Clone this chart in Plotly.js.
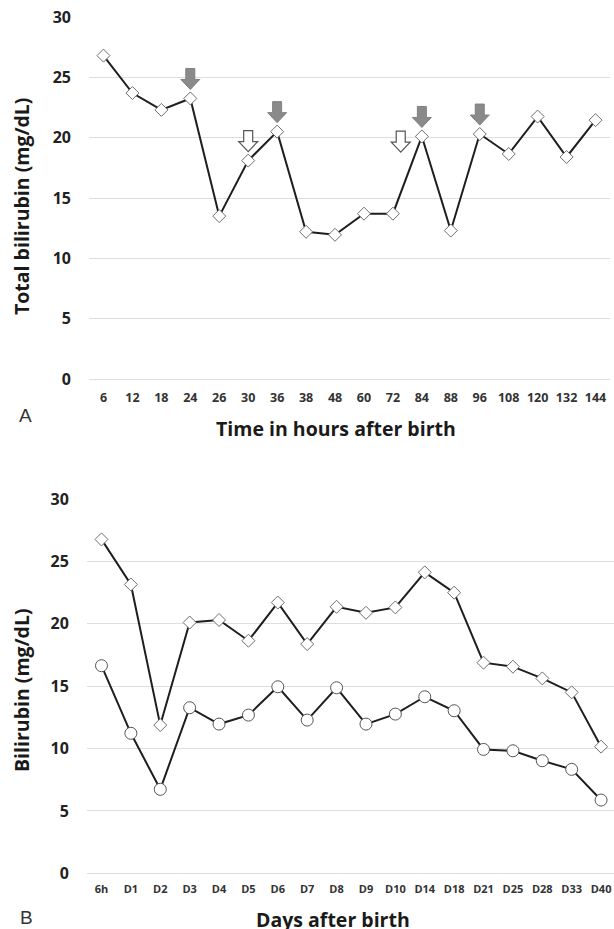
<!DOCTYPE html>
<html>
<head>
<meta charset="utf-8">
<script src="https://cdn.plot.ly/plotly-3.0.1.min.js"></script>
<style>html,body{margin:0;padding:0;background:#fff}#chart{width:614px;height:929px}</style>
</head>
<body>
<div id="chart"></div>
<script>
// Panel A data
const hoursLabels = ['6','12','18','24','26','30','36','38','48','60','72','84','88','96','108','120','132','144'];
const totalBilirubinA = [26.8,23.7,22.3,23.25,13.5,18.1,20.5,12.2,11.95,13.7,13.7,20.1,12.3,20.3,18.65,21.75,18.4,21.45];
// Arrow markers (gray = filled, white = outlined): category position, value of anchor
const grayArrowAt = ['24','36','84','96'];
const grayArrowY = [23.25,20.5,20.1,20.3];
const whiteArrowPos = [5, 10.27];   // at '30' and between '72' and '84'
const whiteArrowY = [18.1, 18.06];

// Panel B data
const dayLabels = ['6h','D1','D2','D3','D4','D5','D6','D7','D8','D9','D10','D14','D18','D21','D25','D28','D33','D40'];
const seriesDiamond = [26.76,23.15,11.88,20.1,20.3,18.64,21.7,18.37,21.36,20.88,21.31,24.12,22.49,16.88,16.56,15.62,14.5,10.15];
const seriesCircle = [16.64,11.22,6.73,13.27,11.96,12.68,14.95,12.28,14.87,11.96,12.76,14.15,13.03,9.93,9.82,9.02,8.33,5.87];

const H = 929, W = 614;
const py = p => 1 - p / H;
const px = p => p / W;

const lineStyle = {color: '#1e1e1e', width: 2};
const diamondMarker = {symbol: 'diamond', size: 10, color: '#ffffff', line: {color: '#6e6e6e', width: 1}};
const circleMarker = {symbol: 'circle', size: 12, color: '#ffffff', line: {color: '#555555', width: 1}};

const traces = [
  {x: hoursLabels, y: totalBilirubinA, type: 'scatter', mode: 'lines+markers', xaxis: 'x', yaxis: 'y',
   line: lineStyle, marker: diamondMarker, cliponaxis: false, hoverinfo: 'skip'},
  {x: dayLabels, y: seriesDiamond, type: 'scatter', mode: 'lines+markers', xaxis: 'x2', yaxis: 'y2',
   line: lineStyle, marker: diamondMarker, cliponaxis: false, hoverinfo: 'skip'},
  {x: dayLabels, y: seriesCircle, type: 'scatter', mode: 'lines+markers', xaxis: 'x2', yaxis: 'y2',
   line: lineStyle, marker: circleMarker, cliponaxis: false, hoverinfo: 'skip'}
];

// category index (tiny offset avoids clashing with numeric category names)
const catPos = lbl => hoursLabels.indexOf(lbl) + 1e-4;
const arrowPath = 'M0,9 L-9.5,19 L-4.5,19 L-4.5,30 L4.5,30 L4.5,19 L9.5,19 Z';
const shapes = [];
grayArrowAt.forEach((lbl, i) => shapes.push({
  type: 'path', xref: 'x', yref: 'y', xsizemode: 'pixel', ysizemode: 'pixel',
  xanchor: catPos(lbl), yanchor: grayArrowY[i], path: arrowPath,
  fillcolor: '#8a8a8a', line: {color: '#808080', width: 1}
}));
whiteArrowPos.forEach((xv, i) => shapes.push({
  type: 'path', xref: 'x', yref: 'y', xsizemode: 'pixel', ysizemode: 'pixel',
  xanchor: xv + 1e-4, yanchor: whiteArrowY[i], path: arrowPath,
  fillcolor: '#ffffff', line: {color: '#555555', width: 1.2}
}));

const tickFontY = {family: 'Open Sans', size: 16, color: '#222222', weight: 'bold'};
const titleFont = {family: 'Open Sans', size: 19.5, color: '#1a1a1a', weight: 'bold'};
const letterFont = {family: 'Liberation Sans', size: 19, color: '#333333'};

const yCommon = {range: [0, 30], tickvals: [0,5,10,15,20,25,30], showgrid: true, gridcolor: '#dedede', gridwidth: 1,
  zeroline: true, zerolinecolor: '#dedede', zerolinewidth: 1, showline: false, ticks: '',
  tickfont: tickFontY, ticklabelstandoff: 17, fixedrange: true};

const layout = {
  width: W, height: H, margin: {l: 0, r: 0, t: 0, b: 0},
  paper_bgcolor: '#ffffff', plot_bgcolor: '#ffffff', showlegend: false,
  xaxis: {type: 'category', domain: [px(89), px(610)], range: [-0.5, 17.5], anchor: 'y',
    showgrid: false, zeroline: false, showline: false, ticks: '',
    tickfont: {family: 'Open Sans', size: 12.5, color: '#333333', weight: 'bold'}, ticklabelstandoff: 9, fixedrange: true},
  yaxis: Object.assign({}, yCommon, {domain: [py(379), py(17)], anchor: 'x'}),
  xaxis2: {type: 'category', domain: [px(86.8), 1], range: [-0.5, 17.44], anchor: 'y2',
    showgrid: false, zeroline: false, showline: false, ticks: '',
    tickfont: {family: 'Open Sans', size: 11, color: '#333333', weight: 'bold'}, ticklabelstandoff: 8, fixedrange: true},
  yaxis2: Object.assign({}, yCommon, {domain: [py(873.3), py(499)], anchor: 'x2'}),
  shapes: shapes,
  annotations: [
    {text: 'Total bilirubin (mg/dL)', xref: 'paper', yref: 'paper', x: px(21), y: py(207), textangle: -90,
     showarrow: false, font: titleFont, xanchor: 'center', yanchor: 'middle'},
    {text: 'Time in hours after birth', xref: 'paper', yref: 'paper', x: px(336), y: py(428),
     showarrow: false, font: titleFont, xanchor: 'center', yanchor: 'middle'},
    {text: 'A', xref: 'paper', yref: 'paper', x: px(25), y: py(415),
     showarrow: false, font: letterFont, xanchor: 'center', yanchor: 'middle'},
    {text: 'Bilirubin (mg/dL)', xref: 'paper', yref: 'paper', x: px(21), y: py(690), textangle: -90,
     showarrow: false, font: titleFont, xanchor: 'center', yanchor: 'middle'},
    {text: 'Days after birth', xref: 'paper', yref: 'paper', x: px(333), y: py(919),
     showarrow: false, font: titleFont, xanchor: 'center', yanchor: 'middle'},
    {text: 'B', xref: 'paper', yref: 'paper', x: px(26), y: py(917),
     showarrow: false, font: letterFont, xanchor: 'center', yanchor: 'middle'}
  ]
};

Plotly.newPlot('chart', traces, layout, {displayModeBar: false, staticPlot: true});
</script>
</body>
</html>
